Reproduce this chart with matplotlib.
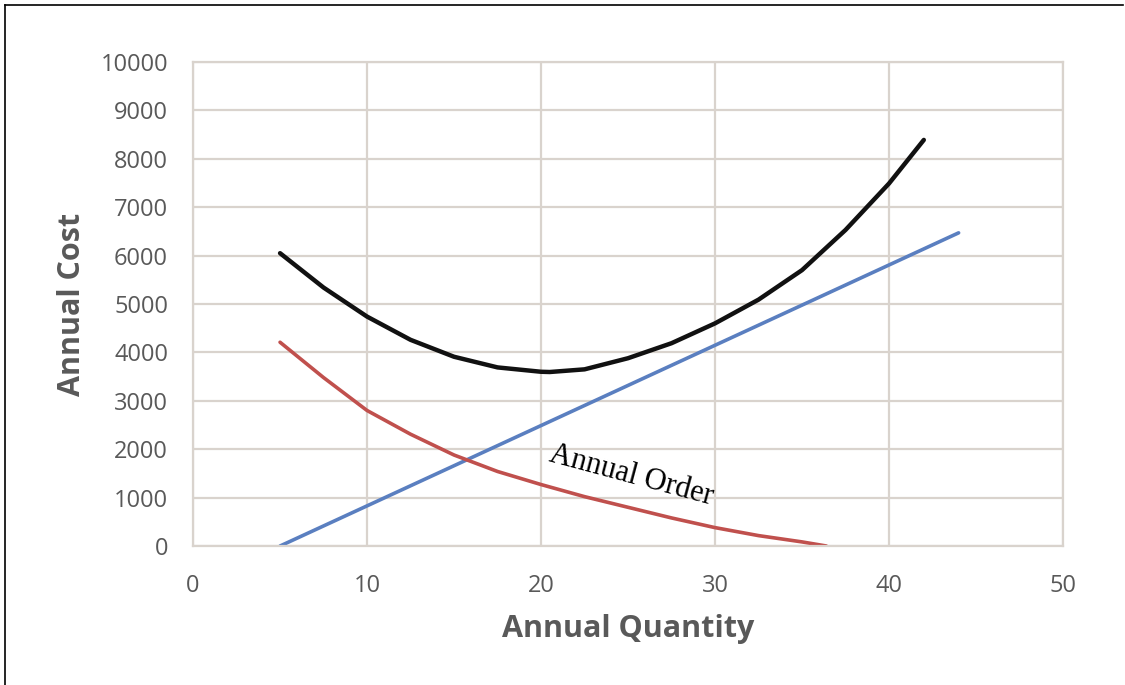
import matplotlib.pyplot as plt
from matplotlib.lines import Line2D

################################################################################
# Data.                                                     #
################################################################################

# Total cost curve (black).
total_q = [5, 7.5, 10, 12.5, 15, 17.5, 20, 20.5, 22.5, 25, 27.5, 30, 32.5, 35, 37.5, 40, 42]
total_cost = [6050, 5340, 4740, 4260, 3910, 3690, 3600, 3595, 3650, 3880, 4190, 4600, 5090, 5700, 6530, 7490, 8390]

# Annual order cost curve (red).
order_q = [5, 7.5, 10, 12.5, 15, 17.5, 20, 22.5, 25, 27.5, 30, 32.5, 35, 36.4]
order_cost = [4210, 3480, 2800, 2310, 1880, 1540, 1270, 1020, 800, 580, 380, 215, 85, 0]

# Holding cost line (blue).
hold_q = [5, 44]
hold_cost = [0, 6470]

x_ticks = [0, 10, 20, 30, 40, 50]
y_ticks = list(range(0, 10001, 1000))

################################################################################
# Plot.                                                                        #
################################################################################

grey = '#595959'
grid_c = '#D9D3CD'

fig = plt.figure(figsize=(11.25, 6.85), dpi=100)
ax = fig.add_axes([0.1716, 0.2029, 0.7733, 0.7066])

ax.plot(hold_q, hold_cost, '-', lw=2.6, c='#5A7FC0', solid_capstyle='round')
ax.plot(order_q, order_cost, '-', lw=2.6, c='#C0504D', solid_capstyle='round', solid_joinstyle='round')
ax.plot(total_q, total_cost, '-', lw=3.2, c='#111111', solid_capstyle='round', solid_joinstyle='round')

# Label on the order curve.
ax.text(25.2, 1450, 'Annual Order', fontsize=22, family='Liberation Serif', color='k',
        rotation=-15, rotation_mode='anchor', ha='center', va='center')

# Control axes.
ax.set_xlim(0, 50)
ax.set_ylim(0, 10000)
ax.set_xticks(x_ticks)
ax.set_yticks(y_ticks)
ax.grid(True, color=grid_c, lw=1.6)
ax.set_axisbelow(True)
for s in ['left', 'bottom', 'right', 'top']:
  ax.spines[s].set_color(grid_c)
  ax.spines[s].set_linewidth(1.6)
ax.tick_params(length=0, labelsize=17, labelcolor=grey)
ax.tick_params(axis='x', pad=20)
ax.tick_params(axis='y', pad=18)
for lab in ax.get_xticklabels() + ax.get_yticklabels():
  lab.set_family('Open Sans')

ax.set_xlabel('Annual Quantity', fontsize=22, fontweight='bold', color=grey, family='Open Sans', labelpad=12)
ax.set_ylabel('Annual Cost', fontsize=22, fontweight='bold', color=grey, family='Open Sans', labelpad=10)

# Frame lines at the figure edge (top and left only).
fig.add_artist(Line2D([5/1125, 1123/1125], [1-5/685, 1-5/685], transform=fig.transFigure, c='k', lw=1.2))
fig.add_artist(Line2D([5/1125, 5/1125], [0, 1-5/685], transform=fig.transFigure, c='k', lw=1.2))

fig.savefig('out.png', dpi=100)
plt.close()
